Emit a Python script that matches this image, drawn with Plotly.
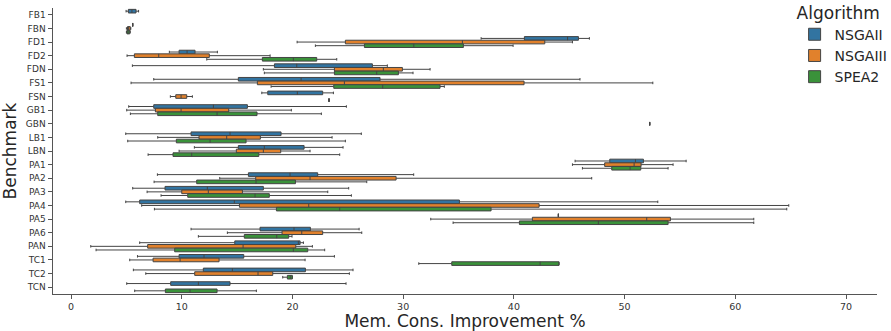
import plotly.graph_objects as go

categories = ["FB1", "FBN", "FD1", "FD2", "FDN", "FS1", "FSN", "GB1", "GBN", "LB1", "LBN",
              "PA1", "PA2", "PA3", "PA4", "PA5", "PA6", "PAN", "TC1", "TC2", "TCN"]
algorithms = ["NSGAII", "NSGAIII", "SPEA2"]

# NSGAII statistics
nsga2_low = [4.97, 5.57, 37.04, 8.88, 5.54, 7.47, 17.23, 5.21, None, 4.94, 11.14,
             45.53, 7.80, 5.57, 4.94, 44.02, 10.84, 6.20, 6.00, 5.63, 5.03]
nsga2_q1 = [5.18, 5.57, 40.95, 9.76, 18.37, 15.11, 17.77, 7.47, None, 10.84, 15.11,
            48.66, 16.02, 8.49, 6.20, 44.02, 17.07, 14.79, 9.76, 11.95, 9.00]
nsga2_med = [5.50, 5.57, 44.85, 10.48, 20.39, 20.78, 20.44, 12.86, None, 14.36, 17.46,
             50.98, 19.78, 12.31, 14.75, 44.02, 20.14, 20.53, 12.01, 14.57, 11.50]
nsga2_q3 = [5.87, 5.57, 45.83, 11.20, 27.22, 27.91, 22.73, 15.93, None, 18.97, 21.05,
            51.70, 22.28, 17.37, 35.08, 44.02, 21.62, 20.69, 15.60, 21.17, 14.36]
nsga2_high = [6.10, 5.57, 46.82, 13.22, 28.57, 45.97, 23.70, 24.87, None, 26.22, 24.57,
              55.56, 30.95, 25.08, 53.00, 44.02, 26.02, 20.99, 23.79, 25.47, 24.84]

# NSGAIII statistics
nsga3_low = [None, 5.00, 20.42, 5.06, 17.37, 5.42, 8.97, 5.03, 52.27, 7.83, 9.76,
             45.29, 13.43, 6.87, 6.38, 32.49, 14.12, 1.78, 5.30, 6.75, None]
nsga3_q1 = [None, 5.10, 24.78, 5.72, 23.79, 16.83, 9.46, 7.62, 52.27, 11.56, 14.93,
            48.20, 16.68, 10.00, 15.21, 41.67, 19.06, 6.92, 7.41, 11.17, None]
nsga3_med = [None, 5.20, 35.35, 7.92, 28.21, 24.69, 9.94, 9.94, 52.27, 14.06, 17.37,
             50.86, 21.59, 12.40, 21.47, 52.00, 20.84, 15.54, 9.85, 16.89, None]
nsga3_q3 = [None, 5.35, 42.79, 12.49, 29.93, 40.92, 10.45, 14.24, 52.27, 17.10, 18.94,
            51.49, 29.36, 15.48, 42.28, 54.14, 22.73, 20.30, 13.37, 18.22, None]
nsga3_high = [None, 5.40, 45.29, 17.98, 32.43, 52.55, 10.96, 19.90, 52.27, 23.58, 21.59,
              54.38, 47.03, 23.19, 64.83, 61.67, 26.26, 21.80, 21.14, 25.14, None]

# SPEA2 statistics
spea2_low = [None, 5.00, 22.07, 12.26, 17.46, 18.07, 23.30, 5.36, None, 5.12, 6.96,
             46.19, 7.50, 8.13, 7.53, 34.51, 11.50, 2.26, 31.41, 19.12, 5.75]
spea2_q1 = [None, 5.05, 26.50, 17.28, 23.79, 23.73, 23.30, 7.83, None, 9.51, 9.21,
            48.84, 11.35, 10.54, 18.55, 40.50, 15.65, 9.36, 34.39, 19.54, 8.52]
spea2_med = [None, 5.15, 30.96, 20.08, 27.61, 28.15, 23.30, 13.19, None, 12.56, 10.90,
             50.50, 16.71, 16.62, 24.27, 47.63, 18.58, 20.08, 42.37, 19.80, 10.75]
spea2_q3 = [None, 5.30, 35.44, 22.19, 29.57, 33.33, 23.30, 16.80, None, 15.81, 16.96,
            51.46, 20.27, 17.91, 37.94, 53.93, 19.66, 21.38, 44.08, 19.99, 13.19]
spea2_high = [None, 5.35, 39.93, 24.00, 30.89, 33.72, 23.30, 22.61, None, 24.78, 24.27,
              53.93, 26.71, 25.32, 64.65, 61.67, 19.96, 22.91, 44.08, 19.99, 16.74]

x_ticks = [0, 10, 20, 30, 40, 50, 60, 70]

colors = ["#3274A1", "#E1812C", "#3A923A"]
stats = [
    (nsga2_low, nsga2_q1, nsga2_med, nsga2_q3, nsga2_high),
    (nsga3_low, nsga3_q1, nsga3_med, nsga3_q3, nsga3_high),
    (spea2_low, spea2_q1, spea2_med, spea2_q3, spea2_high),
]

fig = go.Figure()
for name, color, (lo, q1, med, q3, hi) in zip(algorithms, colors, stats):
    idx = [i for i, v in enumerate(med) if v is not None]
    fig.add_trace(go.Box(
        name=name,
        orientation="h",
        y=[categories[i] for i in idx],
        lowerfence=[lo[i] for i in idx],
        q1=[q1[i] for i in idx],
        median=[med[i] for i in idx],
        q3=[q3[i] for i in idx],
        upperfence=[hi[i] for i in idx],
        fillcolor=color,
        line=dict(color="#444444", width=1),
        marker=dict(color=color),
        whiskerwidth=0.7,
        boxpoints=False,
    ))

font_family = "DejaVu Sans"
fig.update_layout(
    width=891, height=331,
    margin=dict(l=53, r=14, t=8, b=37, autoexpand=False),
    paper_bgcolor="white", plot_bgcolor="white",
    boxmode="group", boxgap=0.2, boxgroupgap=0,
    font=dict(family=font_family, color="#262626"),
    showlegend=True,
    legend=dict(
        title=dict(text="Algorithm", font=dict(size=17, family=font_family, color="#262626"), side="top"),
        font=dict(size=14, family=font_family, color="#262626"),
        x=0.9, y=1.04, xanchor="left", yanchor="top",
        bgcolor="rgba(255,255,255,0)", tracegroupgap=0,
    ),
    xaxis=dict(
        range=[-1.63, 72.8], tickvals=x_ticks, ticktext=[str(v) for v in x_ticks],
        showline=True, linecolor="#555555", linewidth=1,
        ticks="outside", ticklen=4, tickcolor="#555555", tickwidth=1,
        showgrid=False, zeroline=False,
        tickfont=dict(size=9.5, family=font_family, color="#333333"),
        title=dict(text="Mem. Cons. Improvement %", font=dict(size=17, family=font_family, color="#262626"), standoff=6),
    ),
    yaxis=dict(
        type="category", categoryorder="array", categoryarray=categories,
        range=[20.5, -0.5],
        showline=True, linecolor="#555555", linewidth=1,
        ticks="outside", ticklen=4.5, tickcolor="#555555", tickwidth=1,
        showgrid=False, zeroline=False,
        tickfont=dict(size=9, family=font_family, color="#333333"),
        title=dict(text="Benchmark", font=dict(size=17, family=font_family, color="#262626"), standoff=4),
    ),
)

fig.write_html("out.html")
